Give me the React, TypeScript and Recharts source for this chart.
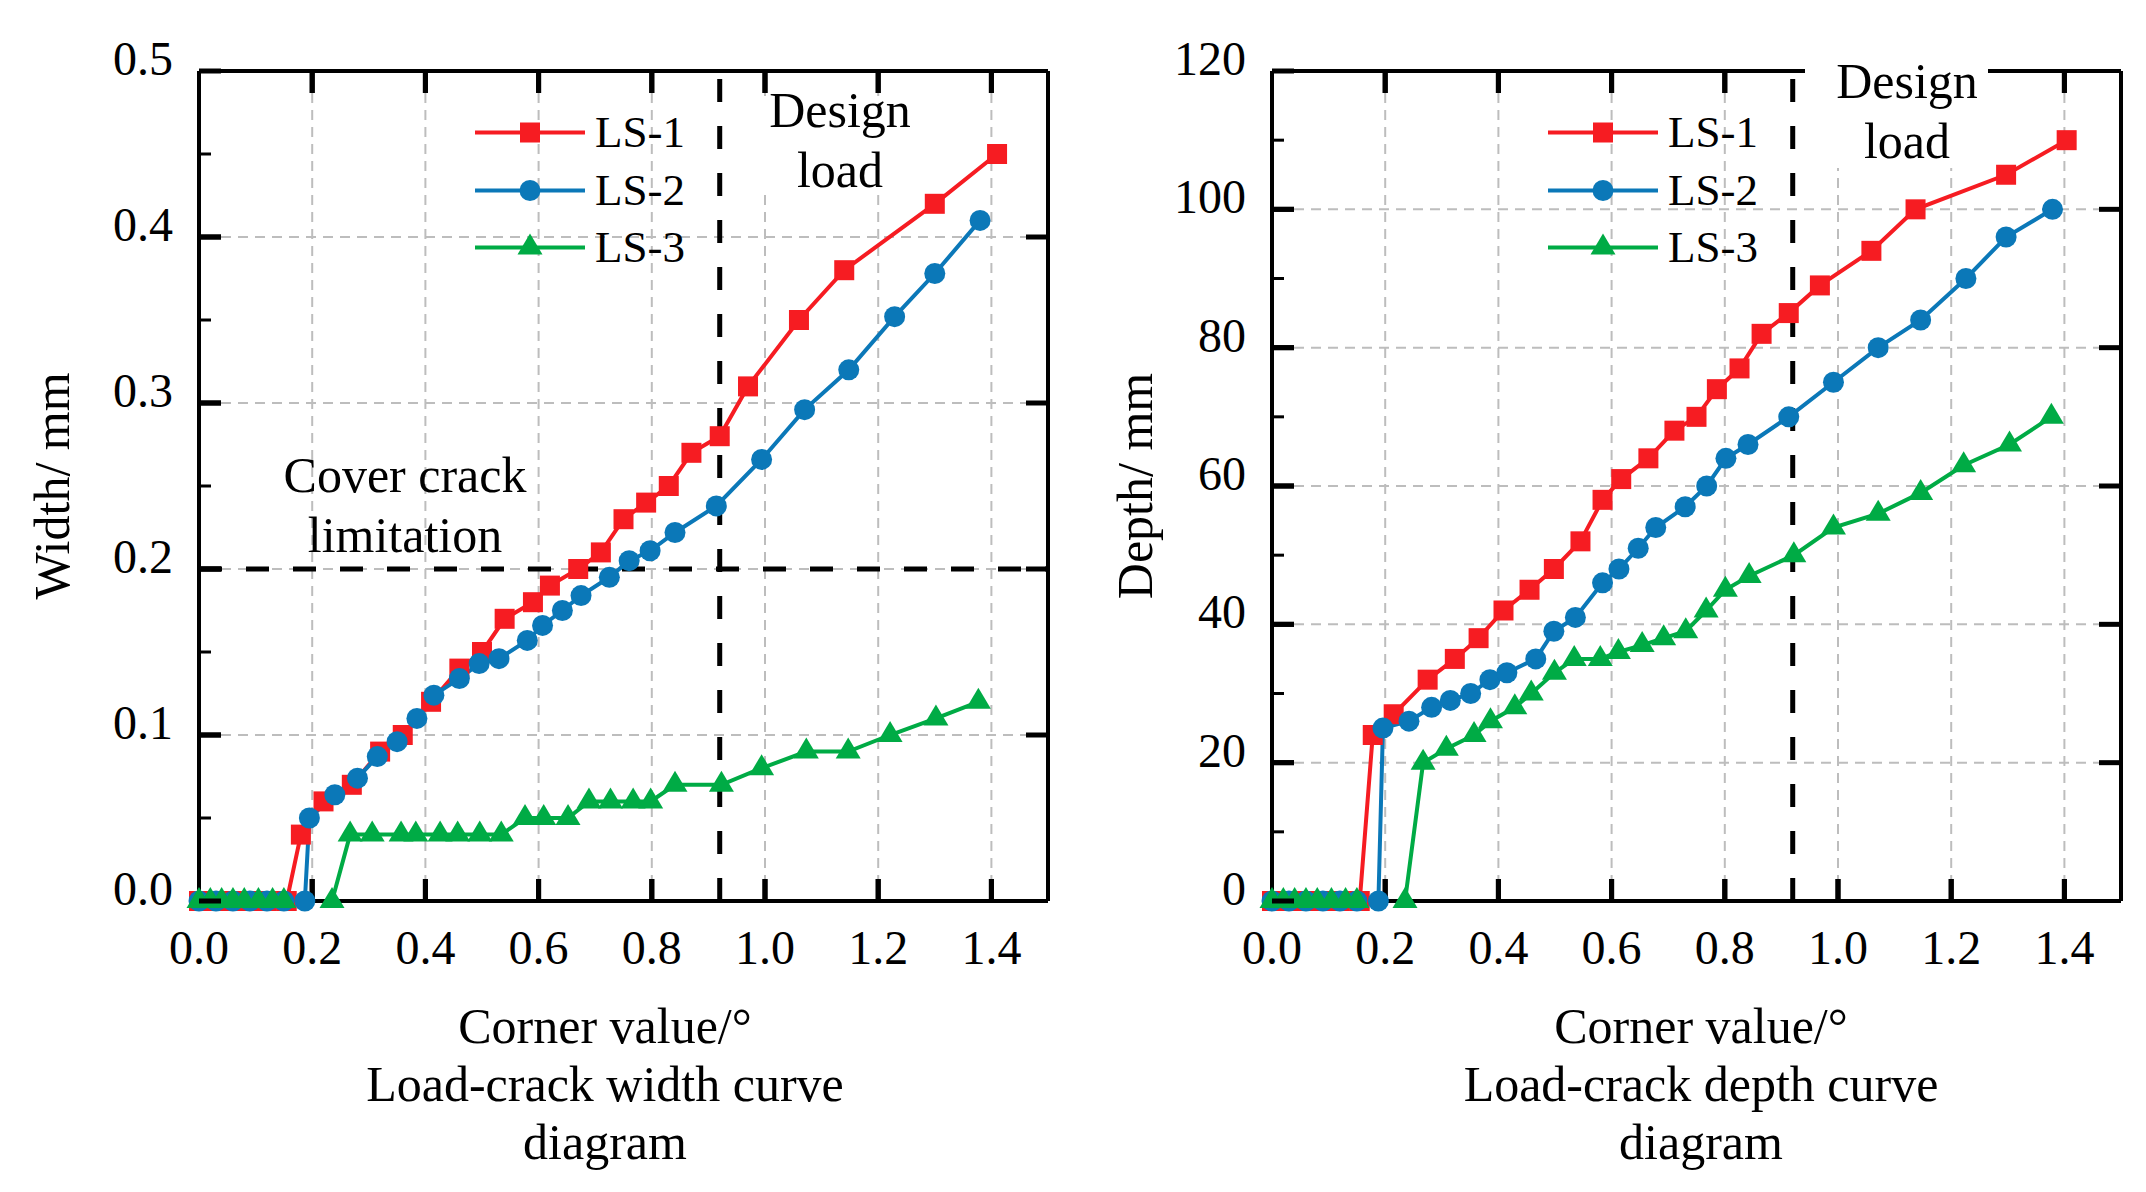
import React from 'react';
import { LineChart, Line, XAxis, YAxis, CartesianGrid, ReferenceLine, Legend } from 'recharts';

// corner value (°) vs crack width (mm)
const widthLs1Corner = [0, 0.03, 0.06, 0.09, 0.12, 0.155, 0.18, 0.22, 0.27, 0.32, 0.36, 0.41, 0.46, 0.5, 0.54, 0.59, 0.62, 0.67, 0.71, 0.75, 0.79, 0.83, 0.87, 0.92, 0.97, 1.06, 1.14, 1.3, 1.41];
const widthLs1Value = [0, 0, 0, 0, 0, 0, 0.04, 0.06, 0.07, 0.09, 0.1, 0.12, 0.14, 0.15, 0.17, 0.18, 0.19, 0.2, 0.21, 0.23, 0.24, 0.25, 0.27, 0.28, 0.31, 0.35, 0.38, 0.42, 0.45];
const widthLs2Corner = [0, 0.03, 0.06, 0.09, 0.12, 0.15, 0.187, 0.195, 0.24, 0.28, 0.315, 0.35, 0.385, 0.415, 0.46, 0.495, 0.53, 0.58, 0.607, 0.642, 0.675, 0.725, 0.76, 0.797, 0.841, 0.914, 0.994, 1.07, 1.148, 1.229, 1.3, 1.38];
const widthLs2Value = [0, 0, 0, 0, 0, 0, 0, 0.05, 0.064, 0.074, 0.087, 0.096, 0.11, 0.124, 0.134, 0.143, 0.146, 0.157, 0.166, 0.175, 0.184, 0.195, 0.205, 0.211, 0.222, 0.238, 0.266, 0.296, 0.32, 0.352, 0.378, 0.41];
const widthLs3Corner = [0, 0.02, 0.04, 0.06, 0.08, 0.105, 0.13, 0.15, 0.235, 0.267, 0.306, 0.357, 0.383, 0.426, 0.457, 0.496, 0.534, 0.576, 0.609, 0.652, 0.689, 0.727, 0.767, 0.798, 0.841, 0.923, 0.994, 1.073, 1.147, 1.221, 1.302, 1.377];
const widthLs3Value = [0, 0, 0, 0, 0, 0, 0, 0, 0, 0.04, 0.04, 0.04, 0.04, 0.04, 0.04, 0.04, 0.04, 0.05, 0.05, 0.05, 0.06, 0.06, 0.06, 0.06, 0.07, 0.07, 0.08, 0.09, 0.09, 0.1, 0.11, 0.12];

// corner value (°) vs crack depth (mm), right panel
const depthLs1Corner = [0, 0.03, 0.06, 0.09, 0.12, 0.155, 0.178, 0.215, 0.275, 0.323, 0.365, 0.409, 0.455, 0.498, 0.545, 0.584, 0.617, 0.665, 0.711, 0.75, 0.786, 0.826, 0.865, 0.913, 0.968, 1.059, 1.137, 1.297, 1.404];
const depthLs1Value = [0, 0, 0, 0, 0, 0, 24, 27, 32, 35, 38, 42, 45, 48, 52, 58, 61, 64, 68, 70, 74, 77, 82, 85, 89, 94, 100, 105, 110];
const depthLs2Corner = [0, 0.03, 0.06, 0.09, 0.12, 0.15, 0.188, 0.196, 0.242, 0.282, 0.315, 0.351, 0.385, 0.415, 0.466, 0.498, 0.536, 0.584, 0.613, 0.647, 0.678, 0.73, 0.768, 0.802, 0.841, 0.913, 0.992, 1.071, 1.146, 1.226, 1.297, 1.379];
const depthLs2Value = [0, 0, 0, 0, 0, 0, 0, 25, 26, 28, 29, 30, 32, 33, 35, 39, 41, 46, 48, 51, 54, 57, 60, 64, 66, 70, 75, 80, 84, 90, 96, 100];
const depthLs3Corner = [0, 0.02, 0.04, 0.06, 0.08, 0.105, 0.13, 0.15, 0.235, 0.267, 0.308, 0.357, 0.386, 0.429, 0.458, 0.499, 0.534, 0.58, 0.612, 0.654, 0.692, 0.731, 0.767, 0.801, 0.843, 0.922, 0.992, 1.071, 1.146, 1.222, 1.303, 1.377];
const depthLs3Value = [0, 0, 0, 0, 0, 0, 0, 0, 0, 20, 22, 24, 26, 28, 30, 33, 35, 35, 36, 37, 38, 39, 42, 45, 47, 50, 54, 56, 59, 63, 66, 70];

const cornerTicks = [0, 0.2, 0.4, 0.6, 0.8, 1.0, 1.2, 1.4];
const widthTicks = [0, 0.05, 0.1, 0.15, 0.2, 0.25, 0.3, 0.35, 0.4, 0.45, 0.5];
const widthMajor = [0, 0.1, 0.2, 0.3, 0.4, 0.5];
const depthTicks = [0, 10, 20, 30, 40, 50, 60, 70, 80, 90, 100, 110, 120];
const depthMajor = [0, 20, 40, 60, 80, 100, 120];

const DESIGN_LOAD = 0.92;
const COVER_CRACK_LIMIT = 0.2;

const RED = '#f61c22';
const BLUE = '#0b78b8';
const GREEN = '#00ab45';
const SERIF = '"Liberation Serif", "Times New Roman", serif';

const PANEL_W = 1073;
const PANEL_H = 1192;
const TICK = 22;

const toPoints = (xs: number[], ys: number[]) => xs.map((x, i) => ({ corner: x, value: ys[i] }));

const shapes: Record<string, string> = { 'LS-1': 'square', 'LS-2': 'circle', 'LS-3': 'triangle' };

const Marker = ({ shape, cx, cy, fill }: { shape: string; cx: number; cy: number; fill: string }) => {
    if (cx == null || cy == null) return null;
    if (shape === 'square') return <rect x={cx - 10} y={cy - 10} width={20} height={20} fill={fill} />;
    if (shape === 'circle') return <circle cx={cx} cy={cy} r={10.5} fill={fill} />;
    return <polygon points={`${cx},${cy - 14} ${cx - 12.5},${cy + 7} ${cx + 12.5},${cy + 7}`} fill={fill} />;
};

const near = (list: number[], v: number) => list.some((m) => Math.abs(m - v) < 1e-9);

// dashed grid line plus the solid inward major tick at each end of it
const gridStyle = { stroke: '#bdbdbd', strokeWidth: 2, strokeDasharray: '10 7' };
const tickStyle = { stroke: '#000', strokeWidth: 5 };
const GridH = (props: any) => {
    const { x1, x2, y1, index } = props;
    const l = Math.min(x1, x2);
    const r = Math.max(x1, x2);
    return (
        <g key={`h-${index}`}>
            <line x1={l + TICK} x2={r - TICK} y1={y1} y2={y1} {...gridStyle} />
            <line x1={l} x2={l + TICK} y1={y1} y2={y1} {...tickStyle} />
            <line x1={r - TICK} x2={r} y1={y1} y2={y1} {...tickStyle} />
        </g>
    );
};
const GridV = (props: any) => {
    const { x1, y1, y2, index } = props;
    const t = Math.min(y1, y2);
    const b = Math.max(y1, y2);
    return (
        <g key={`v-${index}`}>
            <line x1={x1} x2={x1} y1={t + TICK} y2={b - TICK} {...gridStyle} />
            <line x1={x1} x2={x1} y1={t} y2={t + TICK} {...tickStyle} />
            <line x1={x1} x2={x1} y1={b - TICK} y2={b} {...tickStyle} />
        </g>
    );
};

const LeftTick = (props: any) => {
    const { x, y, payload, majors, fmt } = props;
    const major = near(majors, payload.value);
    return (
        <g>
            <line x1={x} x2={x + (major ? TICK : 12)} y1={y} y2={y} stroke="#000" strokeWidth={major ? 5 : 3} />
            {major && (
                <text x={x - 26} y={y + 4} textAnchor="end" fontSize={48} fontFamily={SERIF} fill="#000">
                    {fmt(payload.value)}
                </text>
            )}
        </g>
    );
};

const RightTick = (props: any) => {
    const { x, y, payload, majors } = props;
    const major = near(majors, payload.value);
    return <line x1={x} x2={x - (major ? TICK : 12)} y1={y} y2={y} stroke="#000" strokeWidth={major ? 5 : 3} />;
};

const BottomLabel = (props: any) => {
    const { x, y, payload } = props;
    return (
        <text x={x} y={y + 63} textAnchor="middle" fontSize={48} fontFamily={SERIF} fill="#000">
            {Number(payload.value).toFixed(1)}
        </text>
    );
};

// inward tick marks on the bottom and top frame, drawn at the ends of a reference line
const FrameTicks = (props: any) => {
    const { x1, y1, y2 } = props;
    const top = Math.min(y1, y2);
    const bottom = Math.max(y1, y2);
    return (
        <g>
            <line x1={x1} x2={x1} y1={bottom} y2={bottom - TICK} {...tickStyle} />
            <line x1={x1} x2={x1} y1={top} y2={top + TICK} {...tickStyle} />
        </g>
    );
};

const LegendRows = (props: any) => (
    <div>
        {(props.payload || []).map((entry: any) => (
            <svg key={entry.value} width={230} height={57.5} style={{ display: 'block' }}>
                <line x1={0} x2={110} y1={28.5} y2={28.5} stroke={entry.color} strokeWidth={4} />
                <Marker shape={shapes[entry.value]} cx={55} cy={28.5} fill={entry.color} />
                <text x={120} y={43} fontSize={45} fontFamily={SERIF} fill="#000">
                    {entry.value}
                </text>
            </svg>
        ))}
    </div>
);

type Series = { name: string; color: string; points: { corner: number; value: number }[] };

interface PanelProps {
    series: Series[];
    yDomain: [number, number];
    yTicks: number[];
    yMajor: number[];
    yFormat: (v: number) => string;
    yTitle: string;
    yTitleX: number;
    caption: string[];
    captionX: number;
    limitLine?: number;
    designBox: { left: number; top: number; width: number; height: number };
    designTop: number;
    designX: number;
    children?: React.ReactNode;
}

const axisLine = { stroke: '#000', strokeWidth: 4 };

const Panel: React.FC<PanelProps> = (p) => (
    <div style={{ position: 'absolute', top: 0, width: PANEL_W, height: PANEL_H }}>
        <LineChart width={PANEL_W} height={PANEL_H} margin={{ top: 0, right: 0, bottom: 0, left: 0 }}>
            <CartesianGrid
                horizontal={GridH}
                vertical={GridV}
                horizontalValues={p.yMajor.slice(1, -1)}
                verticalValues={cornerTicks.slice(1)}
            />
            <XAxis
                type="number"
                dataKey="corner"
                domain={[0, 1.5]}
                ticks={cornerTicks}
                interval={0}
                height={291}
                tickSize={0}
                tickMargin={0}
                tickLine={false}
                axisLine={axisLine}
                tick={BottomLabel}
            />
            <XAxis
                xAxisId="top"
                orientation="top"
                type="number"
                domain={[0, 1.5]}
                height={71}
                tickLine={false}
                axisLine={axisLine}
                tick={false}
            />
            <YAxis
                type="number"
                domain={p.yDomain}
                ticks={p.yTicks}
                interval={0}
                width={199}
                tickSize={0}
                tickMargin={0}
                tickLine={false}
                axisLine={axisLine}
                tick={(t: any) => <LeftTick {...t} majors={p.yMajor} fmt={p.yFormat} />}
            />
            <YAxis
                yAxisId="right"
                orientation="right"
                type="number"
                domain={p.yDomain}
                ticks={p.yTicks}
                interval={0}
                width={25}
                tickSize={0}
                tickMargin={0}
                tickLine={false}
                axisLine={axisLine}
                tick={(t: any) => <RightTick {...t} majors={p.yMajor} />}
            />
            {cornerTicks.slice(1).map((v) => (
                <ReferenceLine key={`tick-${v}`} x={v} shape={FrameTicks} />
            ))}
            <ReferenceLine x={DESIGN_LOAD} stroke="#000" strokeWidth={5} strokeDasharray="23 24" />
            {p.limitLine != null && (
                <ReferenceLine y={p.limitLine} stroke="#000" strokeWidth={5} strokeDasharray="23 24" />
            )}
            <Legend
                layout="vertical"
                align="center"
                verticalAlign="middle"
                content={LegendRows}
                wrapperStyle={{ left: 475, top: 104, width: 'auto', height: 'auto' }}
            />
            {p.series.map((s) => (
                <Line
                    key={s.name}
                    name={s.name}
                    data={s.points}
                    dataKey="value"
                    stroke={s.color}
                    strokeWidth={4}
                    isAnimationActive={false}
                    activeDot={false}
                    dot={(d: any) => <Marker key={`${s.name}-${d.index}`} shape={shapes[s.name]} cx={d.cx} cy={d.cy} fill={s.color} />}
                />
            ))}
        </LineChart>

        <div style={{ position: 'absolute', background: '#fff', ...p.designBox }} />
        <div
            style={{
                position: 'absolute',
                left: p.designX - 150,
                top: p.designTop,
                width: 300,
                textAlign: 'center',
                fontFamily: SERIF,
                fontSize: 50,
                lineHeight: '60px',
            }}
        >
            Design
            <br />
            load
        </div>
        {p.children}
        <div
            style={{
                position: 'absolute',
                left: p.yTitleX,
                top: 486,
                transform: 'translate(-50%, -50%) rotate(-90deg)',
                whiteSpace: 'nowrap',
                fontFamily: SERIF,
                fontSize: 50,
                lineHeight: '55px',
            }}
        >
            {p.yTitle}
        </div>
        <div
            style={{
                position: 'absolute',
                left: p.captionX - 350,
                top: 997,
                width: 700,
                textAlign: 'center',
                fontFamily: SERIF,
                fontSize: 50,
                lineHeight: '58px',
            }}
        >
            {p.caption.map((line) => (
                <div key={line}>{line}</div>
            ))}
        </div>
    </div>
);

export default function App() {
    const widthSeries: Series[] = [
        { name: 'LS-1', color: RED, points: toPoints(widthLs1Corner, widthLs1Value) },
        { name: 'LS-2', color: BLUE, points: toPoints(widthLs2Corner, widthLs2Value) },
        { name: 'LS-3', color: GREEN, points: toPoints(widthLs3Corner, widthLs3Value) },
    ];
    const depthSeries: Series[] = [
        { name: 'LS-1', color: RED, points: toPoints(depthLs1Corner, depthLs1Value) },
        { name: 'LS-2', color: BLUE, points: toPoints(depthLs2Corner, depthLs2Value) },
        { name: 'LS-3', color: GREEN, points: toPoints(depthLs3Corner, depthLs3Value) },
    ];

    return (
        <div
            style={{
                position: 'absolute',
                left: 0,
                top: 0,
                width: 2146,
                height: 1192,
                background: '#fff',
                overflow: 'hidden',
            }}
        >
            <div style={{ position: 'absolute', left: 0, top: 0 }}>
                <Panel
                    series={widthSeries}
                    yDomain={[0, 0.5]}
                    yTicks={widthTicks}
                    yMajor={widthMajor}
                    yFormat={(v) => v.toFixed(1)}
                    yTitle="Width/ mm"
                    yTitleX={52}
                    caption={['Corner value/°', 'Load-crack width curve', 'diagram']}
                    captionX={605}
                    limitLine={COVER_CRACK_LIMIT}
                    designBox={{ left: 755, top: 96, width: 170, height: 94 }}
                    designTop={80}
                    designX={840}
                >
                    <div
                        style={{
                            position: 'absolute',
                            left: 405 - 150,
                            top: 445,
                            width: 300,
                            textAlign: 'center',
                            fontFamily: SERIF,
                            fontSize: 50,
                            lineHeight: '60px',
                        }}
                    >
                        Cover crack
                        <br />
                        limitation
                    </div>
                </Panel>
            </div>
            <div style={{ position: 'absolute', left: 1073, top: 0 }}>
                <Panel
                    series={depthSeries}
                    yDomain={[0, 120]}
                    yTicks={depthTicks}
                    yMajor={depthMajor}
                    yFormat={(v) => String(v)}
                    yTitle="Depth/ mm"
                    yTitleX={62}
                    caption={['Corner value/°', 'Load-crack depth curve', 'diagram']}
                    captionX={628}
                    designBox={{ left: 732, top: 40, width: 183, height: 128 }}
                    designTop={51}
                    designX={834}
                />
            </div>
        </div>
    );
}
